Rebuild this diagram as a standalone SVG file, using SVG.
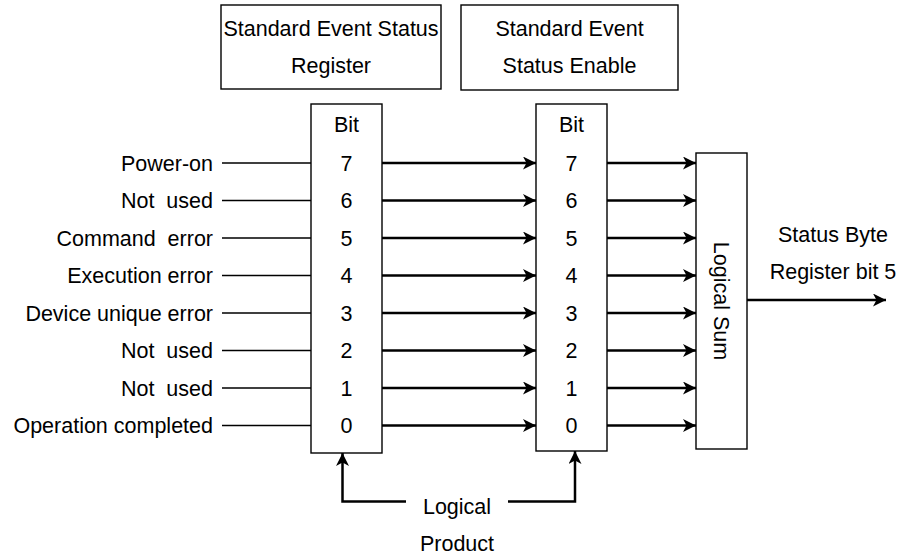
<svg xmlns="http://www.w3.org/2000/svg" width="909" height="558" viewBox="0 0 909 558">
<defs>
<marker id="arr" viewBox="0 0 13 13" refX="13" refY="6.5" markerWidth="13" markerHeight="13" markerUnits="userSpaceOnUse" orient="auto">
<path d="M0,0 L13,6.5 L0,13 L3.5,6.5 Z" fill="#000"/>
</marker>
</defs>
<style>
text{font-family:"Liberation Sans",Arial,sans-serif;font-size:21.5px;fill:#000}
.c{text-anchor:middle}
.r{text-anchor:end}
.box{fill:#fff;stroke:#000;stroke-width:1.4}
.thin{stroke:#000;stroke-width:1.4;fill:none}
.thick{stroke:#000;stroke-width:2.5;fill:none}
.a{marker-end:url(#arr)}
</style>
<rect width="909" height="558" fill="#fff"/>
<g id="ser-title">
<rect class="box" x="221" y="5" width="220" height="84"/>
<text class="c" x="331" y="35.5">Standard Event Status</text>
<text class="c" x="331" y="73">Register</text>
</g>
<g id="see-title">
<rect class="box" x="461" y="5" width="217" height="85"/>
<text class="c" x="569.5" y="35.5">Standard Event</text>
<text class="c" x="569.5" y="73">Status Enable</text>
</g>
<g id="labels">
<text class="r" x="213" y="170.5">Power-on</text>
<text class="r" x="213" y="208" xml:space="preserve">Not  used</text>
<text class="r" x="213" y="245.5" xml:space="preserve">Command  error</text>
<text class="r" x="213" y="283">Execution error</text>
<text class="r" x="213" y="320.5">Device unique error</text>
<text class="r" x="213" y="358" xml:space="preserve">Not  used</text>
<text class="r" x="213" y="395.5" xml:space="preserve">Not  used</text>
<text class="r" x="213" y="433">Operation completed</text>
</g>
<g id="connectors">
<path class="thin" d="M222,163H311M222,200.5H311M222,238H311M222,275.5H311M222,313H311M222,350.5H311M222,388H311M222,425.5H311"/>
<g class="thick a">
<line x1="382" y1="163" x2="536" y2="163"/>
<line x1="382" y1="200.5" x2="536" y2="200.5"/>
<line x1="382" y1="238" x2="536" y2="238"/>
<line x1="382" y1="275.5" x2="536" y2="275.5"/>
<line x1="382" y1="313" x2="536" y2="313"/>
<line x1="382" y1="350.5" x2="536" y2="350.5"/>
<line x1="382" y1="388" x2="536" y2="388"/>
<line x1="382" y1="425.5" x2="536" y2="425.5"/>
<line x1="607" y1="163" x2="696" y2="163"/>
<line x1="607" y1="200.5" x2="696" y2="200.5"/>
<line x1="607" y1="238" x2="696" y2="238"/>
<line x1="607" y1="275.5" x2="696" y2="275.5"/>
<line x1="607" y1="313" x2="696" y2="313"/>
<line x1="607" y1="350.5" x2="696" y2="350.5"/>
<line x1="607" y1="388" x2="696" y2="388"/>
<line x1="607" y1="425.5" x2="696" y2="425.5"/>
<line x1="747" y1="300" x2="886" y2="300"/>
<polyline points="406,501.5 342.5,501.5 342.5,453"/>
<polyline points="508,501.5 575,501.5 575,451"/>
</g>
</g>
<g id="ser-bits">
<rect class="box" x="311" y="104" width="71" height="349"/>
<text class="c" x="346.5" y="132">Bit</text>
<text class="c" x="346.5" y="170.5">7</text>
<text class="c" x="346.5" y="208">6</text>
<text class="c" x="346.5" y="245.5">5</text>
<text class="c" x="346.5" y="283">4</text>
<text class="c" x="346.5" y="320.5">3</text>
<text class="c" x="346.5" y="358">2</text>
<text class="c" x="346.5" y="395.5">1</text>
<text class="c" x="346.5" y="433">0</text>
</g>
<g id="see-bits">
<rect class="box" x="536" y="104" width="71" height="347"/>
<text class="c" x="571.5" y="132">Bit</text>
<text class="c" x="571.5" y="170.5">7</text>
<text class="c" x="571.5" y="208">6</text>
<text class="c" x="571.5" y="245.5">5</text>
<text class="c" x="571.5" y="283">4</text>
<text class="c" x="571.5" y="320.5">3</text>
<text class="c" x="571.5" y="358">2</text>
<text class="c" x="571.5" y="395.5">1</text>
<text class="c" x="571.5" y="433">0</text>
</g>
<g id="logical-sum">
<rect class="box" x="696" y="153" width="51" height="296"/>
<text class="c" transform="translate(721.5,301) rotate(90)" x="0" y="7.5">Logical Sum</text>
</g>
<g id="status-byte">
<text class="c" x="833" y="241.5">Status Byte</text>
<text class="c" x="833" y="278.5">Register bit 5</text>
</g>
<g id="logical-product">
<text class="c" x="457" y="514">Logical</text>
<text class="c" x="457" y="551">Product</text>
</g>
</svg>
